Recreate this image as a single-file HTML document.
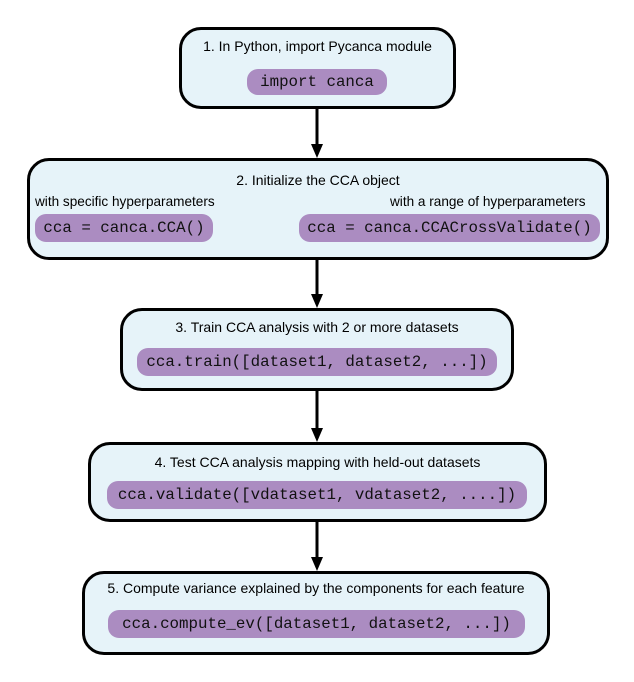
<!DOCTYPE html>
<html><head><style>
body{margin:0;width:634px;height:682px;background:#fff;position:relative;font-family:"Liberation Sans",sans-serif;}
.b{position:absolute;box-sizing:border-box;border:3px solid #000;border-radius:22px;background:#e6f3f9;}
.t{position:absolute;font-size:14px;color:#000;white-space:nowrap;transform:scaleX(0.97);transform-origin:left;}
.tc{position:absolute;font-size:14px;color:#000;white-space:nowrap;text-align:center;}
.c{position:absolute;box-sizing:border-box;background:#ab8cc1;border-radius:11px;font-family:"Liberation Mono",monospace;font-size:15.8px;color:#111;white-space:nowrap;text-align:center;line-height:28px;}
</style></head><body>
<svg width="634" height="682" style="position:absolute;left:0;top:0">
<g stroke="#000" stroke-width="3">
<line x1="317" y1="108" x2="317" y2="148"/>
<line x1="317" y1="260" x2="317" y2="298"/>
<line x1="317" y1="391" x2="317" y2="432"/>
<line x1="317" y1="521" x2="317" y2="561"/>
</g>
<g fill="#000">
<polygon points="311,144 323,144 317,158"/>
<polygon points="311,294 323,294 317,308"/>
<polygon points="311,428 323,428 317,442"/>
<polygon points="311,557 323,557 317,571"/>
</g></svg>

<div class="b" style="left:179px;top:27px;width:277px;height:82px"></div>
<div class="tc" style="left:179px;width:277px;top:38px">1. In Python, import Pycanca module</div>
<div class="c" style="left:247px;top:69px;width:140px;height:26px;line-height:26px">import canca</div>

<div class="b" style="left:27px;top:158px;width:582px;height:102px"></div>
<div class="tc" style="left:27px;width:582px;top:172px">2. Initialize the CCA object</div>
<div class="t" style="left:35px;top:193px">with specific hyperparameters</div>
<div class="t" style="left:390px;top:193px">with a range of hyperparameters</div>
<div class="c" style="left:35px;top:214px;width:178px">cca = canca.CCA()</div>
<div class="c" style="left:299px;top:214px;width:301px">cca = canca.CCACrossValidate()</div>

<div class="b" style="left:120px;top:308px;width:394px;height:83px"></div>
<div class="tc" style="left:120px;width:394px;top:319px">3. Train CCA analysis with 2 or more datasets</div>
<div class="c" style="left:137px;top:348px;width:360px">cca.train([dataset1, dataset2, ...])</div>

<div class="b" style="left:88px;top:442px;width:459px;height:80px"></div>
<div class="tc" style="left:88px;width:459px;top:454px">4. Test CCA analysis mapping with held-out datasets</div>
<div class="c" style="left:107px;top:481px;width:420px">cca.validate([vdataset1, vdataset2, ....])</div>

<div class="b" style="left:82px;top:571px;width:468px;height:84px"></div>
<div class="tc" style="left:82px;width:468px;top:580px">5. Compute variance explained by the components for each feature</div>
<div class="c" style="left:108px;top:610px;width:417px">cca.compute_ev([dataset1, dataset2, ...])</div>
</body></html>
